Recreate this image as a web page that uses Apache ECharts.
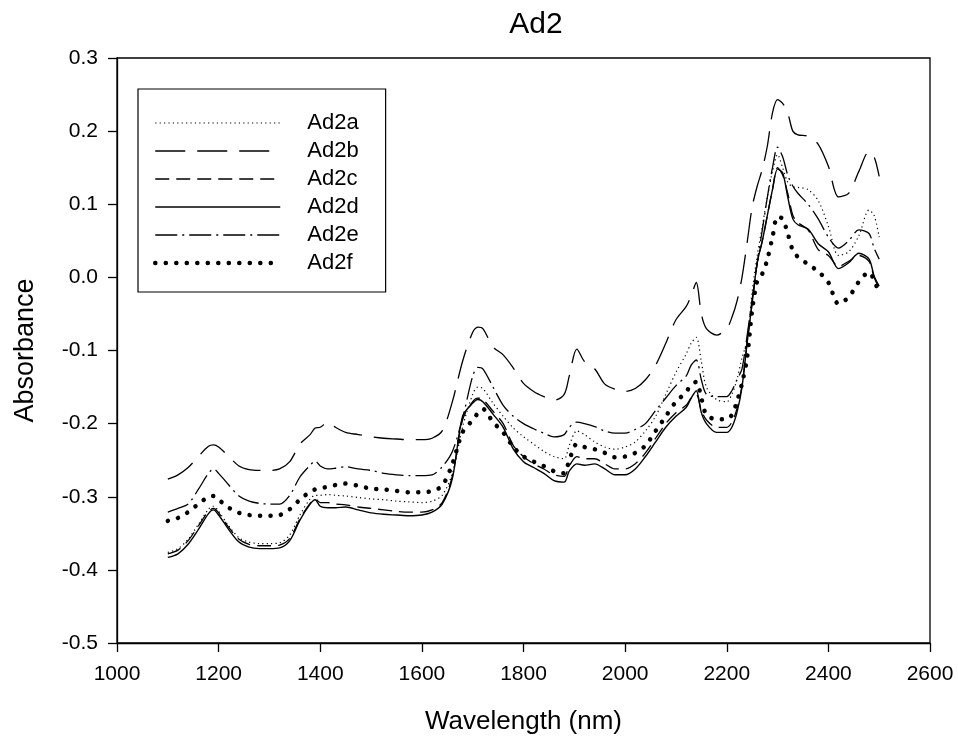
<!DOCTYPE html>
<html><head><meta charset="utf-8">
<script src="https://cdn.jsdelivr.net/npm/echarts@6/dist/echarts.min.js"></script>
<style>html,body{margin:0;padding:0;background:#fff}#c{width:958px;height:740px}</style>
</head><body><div id="c"></div>
<script>
var wavelengths = [1100,1120,1140,1160,1180,1190,1200,1220,1240,1260,1280,1300,1320,1340,1360,1380,1390,1400,1415,1430,1450,1475,1500,1525,1550,1575,1600,1620,1640,1660,1680,1700,1710,1720,1740,1760,1780,1800,1820,1840,1860,1880,1890,1905,1920,1940,1960,1980,2000,2020,2040,2060,2080,2100,2120,2130,2140,2150,2160,2180,2200,2210,2220,2230,2240,2250,2260,2270,2280,2290,2300,2310,2320,2330,2340,2360,2380,2400,2420,2440,2460,2480,2490,2500];

var ad2a = [-0.376,-0.371,-0.358,-0.338,-0.317,-0.313,-0.320,-0.340,-0.356,-0.362,-0.364,-0.364,-0.363,-0.352,-0.325,-0.303,-0.298,-0.298,-0.297,-0.298,-0.299,-0.301,-0.303,-0.304,-0.306,-0.307,-0.308,-0.306,-0.298,-0.268,-0.205,-0.160,-0.150,-0.152,-0.172,-0.190,-0.206,-0.218,-0.228,-0.238,-0.245,-0.248,-0.230,-0.210,-0.215,-0.225,-0.232,-0.235,-0.232,-0.225,-0.210,-0.190,-0.160,-0.130,-0.105,-0.090,-0.082,-0.115,-0.150,-0.167,-0.170,-0.160,-0.140,-0.110,-0.086,-0.020,0.030,0.070,0.110,0.145,0.168,0.150,0.130,0.124,0.123,0.120,0.105,0.070,0.030,0.035,0.057,0.092,0.085,0.055];

var ad2b = [-0.276,-0.270,-0.260,-0.245,-0.231,-0.229,-0.232,-0.245,-0.258,-0.263,-0.264,-0.264,-0.262,-0.252,-0.228,-0.215,-0.206,-0.205,-0.198,-0.205,-0.212,-0.215,-0.218,-0.220,-0.221,-0.222,-0.222,-0.220,-0.210,-0.170,-0.115,-0.075,-0.068,-0.070,-0.095,-0.106,-0.124,-0.145,-0.156,-0.163,-0.168,-0.160,-0.135,-0.098,-0.115,-0.125,-0.146,-0.153,-0.156,-0.152,-0.140,-0.120,-0.090,-0.058,-0.040,-0.025,-0.007,-0.050,-0.070,-0.079,-0.070,-0.055,-0.033,0.000,0.047,0.096,0.125,0.148,0.180,0.225,0.243,0.238,0.225,0.200,0.195,0.193,0.182,0.152,0.110,0.115,0.145,0.172,0.165,0.138];

var ad2c = [-0.378,-0.373,-0.360,-0.340,-0.320,-0.316,-0.322,-0.342,-0.358,-0.365,-0.367,-0.367,-0.366,-0.357,-0.330,-0.309,-0.303,-0.308,-0.308,-0.310,-0.311,-0.314,-0.316,-0.318,-0.320,-0.321,-0.321,-0.318,-0.308,-0.272,-0.195,-0.170,-0.165,-0.167,-0.183,-0.200,-0.230,-0.245,-0.255,-0.262,-0.270,-0.272,-0.258,-0.245,-0.248,-0.248,-0.255,-0.262,-0.262,-0.255,-0.240,-0.220,-0.200,-0.185,-0.175,-0.165,-0.160,-0.182,-0.195,-0.205,-0.205,-0.198,-0.180,-0.148,-0.090,-0.035,0.020,0.050,0.085,0.120,0.150,0.140,0.115,0.085,0.075,0.065,0.038,0.030,0.015,0.022,0.030,0.022,0.000,-0.015];

var ad2d = [-0.383,-0.378,-0.365,-0.345,-0.323,-0.318,-0.325,-0.345,-0.362,-0.369,-0.371,-0.371,-0.370,-0.360,-0.332,-0.310,-0.304,-0.313,-0.315,-0.315,-0.314,-0.318,-0.322,-0.324,-0.325,-0.326,-0.325,-0.321,-0.310,-0.275,-0.190,-0.172,-0.167,-0.170,-0.187,-0.205,-0.235,-0.252,-0.260,-0.268,-0.278,-0.280,-0.265,-0.255,-0.257,-0.255,-0.262,-0.270,-0.270,-0.262,-0.245,-0.225,-0.205,-0.190,-0.178,-0.165,-0.155,-0.185,-0.200,-0.212,-0.212,-0.205,-0.185,-0.150,-0.090,-0.035,0.020,0.050,0.085,0.120,0.148,0.143,0.110,0.080,0.072,0.066,0.046,0.035,0.012,0.020,0.033,0.025,0.002,-0.012];

var ad2e = [-0.321,-0.316,-0.310,-0.290,-0.268,-0.262,-0.268,-0.284,-0.299,-0.306,-0.309,-0.310,-0.310,-0.298,-0.273,-0.257,-0.251,-0.258,-0.262,-0.261,-0.259,-0.262,-0.264,-0.268,-0.270,-0.271,-0.271,-0.270,-0.259,-0.238,-0.193,-0.135,-0.123,-0.125,-0.150,-0.175,-0.190,-0.200,-0.207,-0.213,-0.218,-0.215,-0.205,-0.198,-0.200,-0.204,-0.210,-0.213,-0.213,-0.208,-0.200,-0.182,-0.165,-0.148,-0.135,-0.120,-0.113,-0.140,-0.160,-0.163,-0.163,-0.155,-0.140,-0.125,-0.080,-0.030,0.020,0.065,0.110,0.150,0.178,0.165,0.140,0.125,0.115,0.100,0.080,0.055,0.040,0.050,0.065,0.060,0.040,0.025];

var ad2f = [-0.333,-0.329,-0.321,-0.310,-0.300,-0.299,-0.304,-0.315,-0.322,-0.325,-0.326,-0.326,-0.325,-0.317,-0.304,-0.293,-0.290,-0.289,-0.286,-0.284,-0.282,-0.285,-0.289,-0.290,-0.292,-0.294,-0.294,-0.292,-0.285,-0.255,-0.212,-0.195,-0.186,-0.180,-0.198,-0.212,-0.232,-0.245,-0.252,-0.258,-0.265,-0.268,-0.250,-0.228,-0.232,-0.235,-0.240,-0.246,-0.245,-0.240,-0.230,-0.210,-0.190,-0.170,-0.157,-0.146,-0.143,-0.165,-0.188,-0.194,-0.194,-0.188,-0.170,-0.145,-0.110,-0.045,-0.005,0.005,0.025,0.055,0.083,0.080,0.060,0.037,0.028,0.018,0.008,-0.007,-0.036,-0.027,-0.006,0.007,-0.004,-0.022];

var seriesNames = ['Ad2a','Ad2b','Ad2c','Ad2d','Ad2e','Ad2f'];
var seriesValues = [ad2a, ad2b, ad2c, ad2d, ad2e, ad2f];
var xTicks = [1000,1200,1400,1600,1800,2000,2200,2400,2600];
var yTicks = [-0.5,-0.4,-0.3,-0.2,-0.1,0.0,0.1,0.2,0.3];

var styles = [
  {width:1.2, type:[1.2,3.2], cap:'butt'},
  {width:1.3, type:[30,12], cap:'butt'},
  {width:1.3, type:[14,7], cap:'butt'},
  {width:1.4, type:'solid', cap:'butt'},
  {width:1.3, type:[22,5,2,5], cap:'butt'},
  {width:4.5, type:[0.1,10.4], cap:'round'}
];

var FONT = 'Liberation Sans, Arial, sans-serif';
var chart = echarts.init(document.getElementById('c'), null, {renderer:'canvas'});
var series = seriesNames.map(function(n, i){
  return {
    name: n, type: 'line', showSymbol: false, symbol: 'none',
    data: wavelengths.map(function(w, j){ return [w, seriesValues[i][j]]; }),
    lineStyle: {color:'#000', width: styles[i].width, type: styles[i].type, cap: styles[i].cap},
    itemStyle: {color:'#000', opacity: 0},
    smooth: 0.3, animation: false, z: 3
  };
});

chart.setOption({
  animation: false,
  backgroundColor: '#fff',
  title: {text:'Ad2', left: 531, top: 5, textAlign:'center',
    textStyle:{fontFamily:FONT, fontSize:30, fontWeight:'normal', color:'#000'}},
  grid: {left:117, right:28, top:58, bottom:97, outerBoundsMode:'none', containLabel:false,
    show:true, borderColor:'#000', borderWidth:1.3, backgroundColor:'transparent'},
  legend: {
    left: 138, top: 89, orient:'vertical',
    data: seriesNames.map(function(n, i){
      return {name: n, lineStyle: {color:'#000', width: styles[i].width, type: styles[i].type, cap: styles[i].cap}, itemStyle:{opacity:0}};
    }),
    itemWidth: 125, itemHeight: 14, itemGap: 6,
    itemStyle: {opacity: 0},
    lineStyle: {width: 'inherit'},
    borderColor:'#000', borderWidth:1.2, padding:[23,27,18,15],
    textStyle:{fontFamily:FONT, fontSize:22, lineHeight:22, color:'#000', padding:[0,0,0,22]},
    selectedMode:false
  },
  xAxis: {
    type:'value', min:1000, max:2600, interval:200,
    name:'Wavelength (nm)', nameLocation:'middle', nameGap:66, nameMoveOverlap:false,
    nameTextStyle:{fontFamily:FONT, fontSize:26, color:'#000'},
    axisLine:{show:true, onZero:false, lineStyle:{color:'#000', width:1.3}},
    axisTick:{show:true, inside:false, length:9, lineStyle:{color:'#000', width:1.3}},
    axisLabel:{fontFamily:FONT, fontSize:21, color:'#000', margin:21,
      formatter:function(v){ return xTicks.indexOf(v) >= 0 ? String(v) : ''; }},
    splitLine:{show:false}
  },
  yAxis: {
    type:'value', min:-0.5, max:0.3, interval:0.1,
    name:'Absorbance', nameLocation:'middle', nameGap:78, nameRotate:90, nameMoveOverlap:false,
    nameTextStyle:{fontFamily:FONT, fontSize:27, color:'#000'},
    axisLine:{show:true, onZero:false, lineStyle:{color:'#000', width:1.3}},
    axisTick:{show:true, inside:false, length:9, lineStyle:{color:'#000', width:1.3}},
    axisLabel:{fontFamily:FONT, fontSize:21, color:'#000', margin:19,
      formatter:function(v){ var r = Math.round(v*10)/10; return (yTicks.indexOf(r) >= 0) ? r.toFixed(1) : ''; }},
    splitLine:{show:false}
  },
  series: series
});
</script></body></html>
